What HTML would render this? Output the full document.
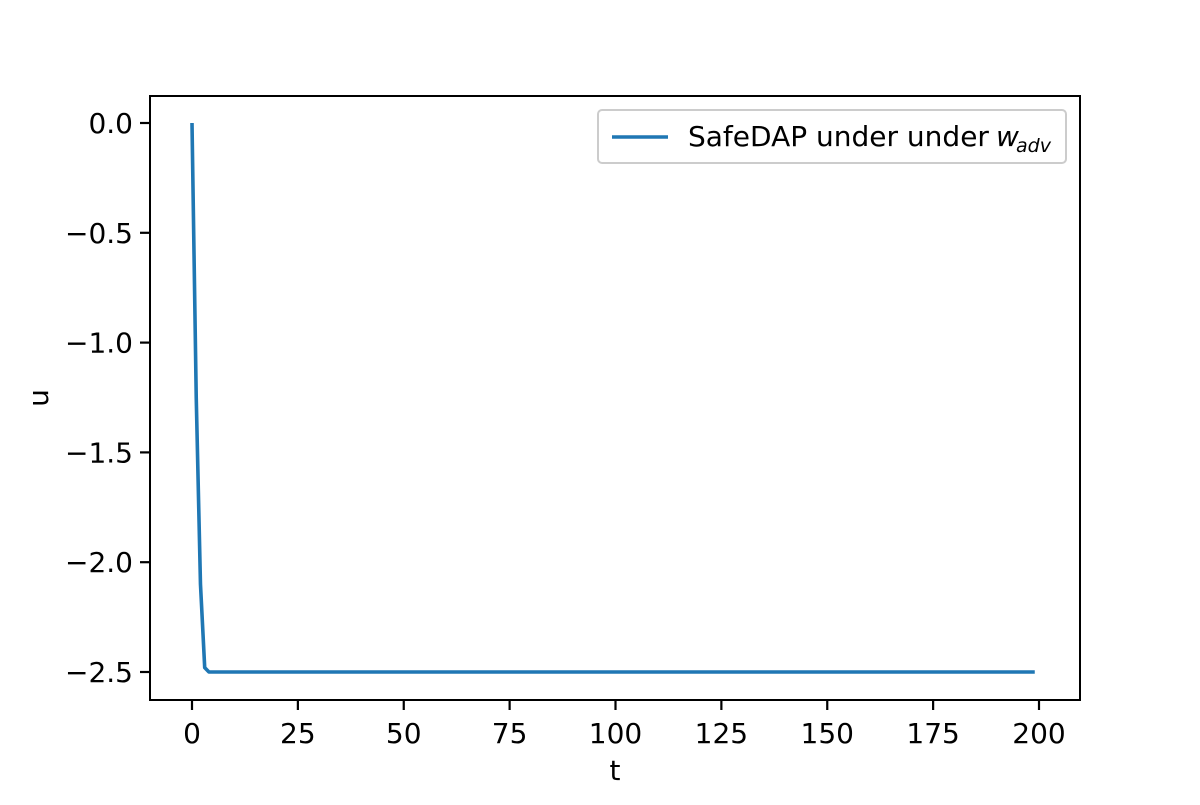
<!DOCTYPE html>
<html><head><meta charset="utf-8"><style>
body{margin:0;background:#fff}
text{font-family:"DejaVu Sans","Liberation Sans",sans-serif;fill:#000}
</style></head><body>
<svg id="chart" width="1200" height="800" xmlns="http://www.w3.org/2000/svg"></svg>
<script>
const xTicks=[0,25,50,75,100,125,150,175,200];
const yTicks=[0.0,-0.5,-1.0,-1.5,-2.0,-2.5];
const yTickLabels=["0.0","\u22120.5","\u22121.0","\u22121.5","\u22122.0","\u22122.5"];
const tHead=[0,1,2,3];
const uHead=[0,-1.25,-2.1,-2.48];
const uTail=-2.5;
const tEnd=199;

const X=t=>192+(t-0)*(1039-192)/200;
const Y=u=>123+(0-u)*(672-123)/2.5;
const svg=document.getElementById('chart');
const NS="http://www.w3.org/2000/svg";
function mk(tag,attrs,txt){const e=document.createElementNS(NS,tag);for(const k in attrs)e.setAttribute(k,attrs[k]);if(txt!==undefined)e.textContent=txt;svg.appendChild(e);return e;}

const ax=mk('rect',{x:150,y:96,width:930,height:604,fill:'none',stroke:'#000','stroke-width':2});



xTicks.forEach(v=>{
  const tk=mk('line',{x1:X(v),x2:X(v),y1:700,y2:710,stroke:'#000','stroke-width':2.2});
  
  
  const lb=mk('text',{x:X(v),y:743,'text-anchor':'middle','font-size':28},String(v));
  
  
});
yTicks.forEach((v,i)=>{
  const tk=mk('line',{x1:140,x2:150,y1:Y(v),y2:Y(v),stroke:'#000','stroke-width':2.2});
  
  
  const lb=mk('text',{x:133,y:Y(v)+10,'text-anchor':'end','font-size':28},yTickLabels[i]);
  
  
});
const xt=mk('text',{x:615,y:780,'text-anchor':'middle','font-size':28},'t');


const yt=mk('text',{x:48,y:398,'text-anchor':'middle','font-size':28,transform:'rotate(-90 48 398)'},'u');



const pts=tHead.map((t,i)=>[t,uHead[i]]);
for(let t=4;t<=tEnd;t++)pts.push([t,uTail]);
const ln=mk('polyline',{points:pts.map(p=>X(p[0])+','+Y(p[1])).join(' '),fill:'none',stroke:'#1f77b4','stroke-width':3.6,'stroke-linejoin':'round'});



const lg=mk('rect',{x:598,y:110,width:468,height:53,rx:4,fill:'#fff',stroke:'#ccc','stroke-width':2});


const ll=mk('line',{x1:612,x2:668,y1:137,y2:137,stroke:'#1f77b4','stroke-width':3.6});


const lt=mk('text',{x:688,y:146,'font-size':28},'SafeDAP under under');


const lw=mk('text',{x:996,y:146,'font-size':28,'font-style':'italic'},'w');


const ls=mk('text',{x:1016,y:152,'font-size':19,'font-style':'italic'},'adv');


</script>
</body></html>
